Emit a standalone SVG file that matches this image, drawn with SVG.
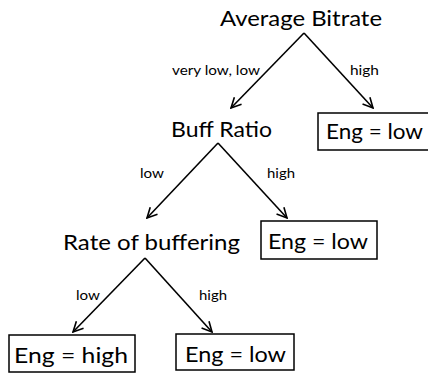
<svg xmlns="http://www.w3.org/2000/svg" width="428" height="375" viewBox="0 0 428 375">
<style>
.big{font-family:Lato,"Open Sans","Liberation Sans",sans-serif;font-size:22px;fill:#000}
.lbl{font-family:Lato,"Open Sans","Liberation Sans",sans-serif;font-size:13px;fill:#000}
.box{fill:#fff;stroke:#000;stroke-width:1.5}
.edge{stroke:#000;stroke-width:1.6;fill:none;marker-end:url(#ah)}
</style>
<defs>
<marker id="ah" viewBox="0 0 12 12" refX="11" refY="6" markerWidth="12" markerHeight="12" markerUnits="userSpaceOnUse" orient="auto">
<polyline points="1,1 11,6 1,11" fill="none" stroke="#000" stroke-width="1.6"/>
</marker>
</defs>
<rect width="428" height="375" fill="#fff"/>
<g id="connectors">
<line class="edge" x1="304" y1="33" x2="231" y2="108"/>
<line class="edge" x1="304" y1="33" x2="373" y2="108"/>
<line class="edge" x1="218" y1="143" x2="147" y2="218"/>
<line class="edge" x1="218" y1="143" x2="287" y2="218"/>
<line class="edge" x1="145" y1="258" x2="73" y2="332"/>
<line class="edge" x1="145" y1="258" x2="212" y2="332"/>
<text class="lbl" x="172" y="75" textLength="88" lengthAdjust="spacingAndGlyphs">very low, low</text>
<text class="lbl" x="350" y="75" textLength="29" lengthAdjust="spacingAndGlyphs">high</text>
<text class="lbl" x="140" y="178" textLength="24" lengthAdjust="spacingAndGlyphs">low</text>
<text class="lbl" x="267" y="178" textLength="28" lengthAdjust="spacingAndGlyphs">high</text>
<text class="lbl" x="76" y="300" textLength="24" lengthAdjust="spacingAndGlyphs">low</text>
<text class="lbl" x="199" y="300" textLength="28" lengthAdjust="spacingAndGlyphs">high</text>
</g>
<g id="node-avg-bitrate">
<text class="big" x="220" y="26" textLength="162" lengthAdjust="spacingAndGlyphs">Average Bitrate</text>
</g>
<g id="node-eng-low-1">
<rect class="box" x="318" y="113" width="114" height="37"/>
<text class="big" x="326" y="139" textLength="97" lengthAdjust="spacingAndGlyphs">Eng = low</text>
</g>
<g id="node-buff-ratio">
<text class="big" x="171" y="137" textLength="101" lengthAdjust="spacingAndGlyphs">Buff Ratio</text>
</g>
<g id="node-rate-buffering">
<text class="big" x="63" y="250" textLength="177" lengthAdjust="spacingAndGlyphs">Rate of buffering</text>
</g>
<g id="node-eng-low-2">
<rect class="box" x="261" y="221" width="116" height="38"/>
<text class="big" x="268" y="249" textLength="100" lengthAdjust="spacingAndGlyphs">Eng = low</text>
</g>
<g id="node-eng-high">
<rect class="box" x="9" y="335" width="126" height="37"/>
<text class="big" x="14" y="363" textLength="114" lengthAdjust="spacingAndGlyphs">Eng = high</text>
</g>
<g id="node-eng-low-3">
<rect class="box" x="176" y="334" width="118" height="36"/>
<text class="big" x="185" y="362" textLength="101" lengthAdjust="spacingAndGlyphs">Eng = low</text>
</g>
</svg>
